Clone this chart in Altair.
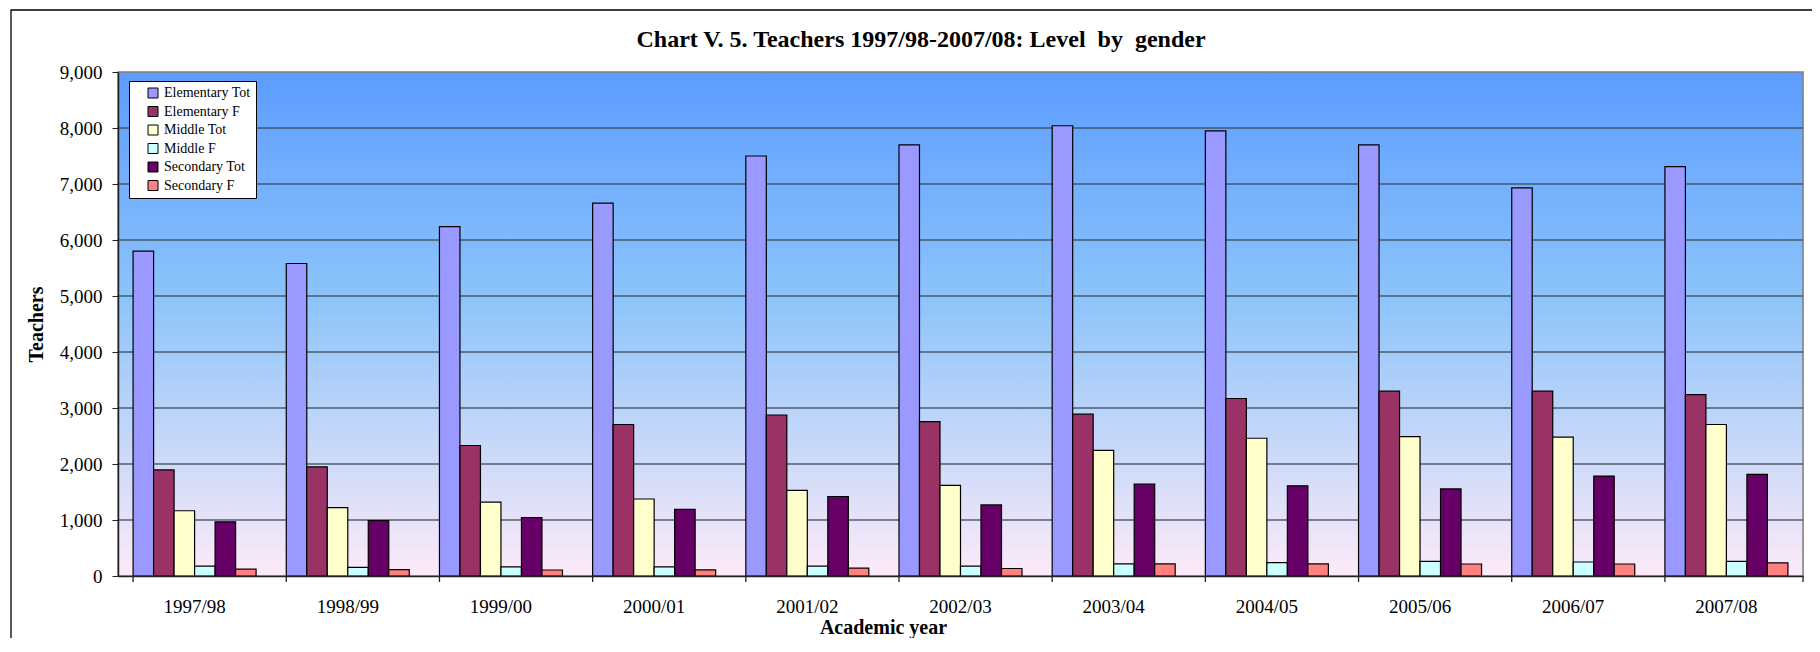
import altair as alt
import pandas as pd

years = ['1997/98', '1998/99', '1999/00', '2000/01', '2001/02', '2002/03',
         '2003/04', '2004/05', '2005/06', '2006/07', '2007/08']
series = ['Elementary Tot', 'Elementary F', 'Middle Tot', 'Middle F',
          'Secondary Tot', 'Secondary F']
colors = ['#9999FF', '#993366', '#FFFFCC', '#CCFFFF', '#660066', '#FF8080']

elem_tot = [5800, 5580, 6240, 6660, 7500, 7700, 8040, 7950, 7700, 6930, 7310]
elem_f = [1895, 1950, 2330, 2705, 2875, 2755, 2890, 3170, 3300, 3300, 3240]
mid_tot = [1165, 1220, 1320, 1375, 1530, 1620, 2245, 2460, 2490, 2480, 2705]
mid_f = [178, 155, 162, 163, 178, 178, 215, 238, 260, 250, 260]
sec_tot = [968, 988, 1045, 1190, 1420, 1270, 1640, 1610, 1555, 1785, 1815]
sec_f = [122, 115, 107, 111, 141, 134, 215, 215, 214, 214, 235]

y_ticks = [0, 1000, 2000, 3000, 4000, 5000, 6000, 7000, 8000, 9000]

title_text = 'Chart V. 5. Teachers 1997/98-2007/08: Level\u00a0 by\u00a0 gender'

FONT = 'Liberation Serif'
W, H = 1685, 504

rows = []
for s, vals in zip(series, [elem_tot, elem_f, mid_tot, mid_f, sec_tot, sec_f]):
    for yr, v in zip(years, vals):
        rows.append({'year': yr, 'series': s, 'value': v})
df = pd.DataFrame(rows)
df_years = pd.DataFrame({'year': years})
df_grid = pd.DataFrame({'v': y_ticks})
one = pd.DataFrame({'a': [0]})

xscale = alt.Scale(paddingInner=0.197, paddingOuter=0.0985)
yscale = alt.Scale(domain=[0, 9000], nice=False)

xaxis = alt.Axis(title='Academic year', ticks=False, tickSize=0, labelPadding=36,
                 labelBaseline='alphabetic', labelAngle=0, labelFont=FONT,
                 labelFontSize=19, labelColor='black', domainColor='#222',
                 domainWidth=1.5, titleFont=FONT, titleFontSize=20,
                 titleFontWeight='bold', titleColor='black', titleX=765,
                 titleY=57, titleBaseline='alphabetic', titleAlign='center',
                 zindex=1, grid=False)
yaxis = alt.Axis(title='Teachers', values=y_ticks, format=',.0f', grid=False,
                 tickSize=6, tickColor='#222', labelPadding=10, labelFont=FONT,
                 labelFontSize=19, labelColor='black', domainColor='#222',
                 domainWidth=1.5, titleFont=FONT, titleFontSize=20,
                 titleFontWeight='bold', titleColor='black', titleX=-76,
                 titleY=252, titleAngle=-90, titleBaseline='alphabetic',
                 titleAlign='center', zindex=1)

bg = alt.Chart(one).mark_rect(
    color=alt.Gradient(gradient='linear', x1=0, x2=0, y1=0, y2=1,
                       stops=[alt.GradientStop(offset=0, color='#5c9cff'),
                              alt.GradientStop(offset=0.45, color='#8cc4fa'),
                              alt.GradientStop(offset=1, color='#fdeaf8')]),
    stroke='#808080', strokeWidth=1.5
).encode(x=alt.value(0), x2=alt.value(W), y=alt.value(0), y2=alt.value(H))

grid = alt.Chart(df_grid).mark_rule(color='#3a4656', strokeWidth=1.4, opacity=0.85).encode(
    y=alt.Y('v:Q', scale=yscale, axis=yaxis)
).transform_filter('datum.v > 0 && datum.v < 9000')

bars = alt.Chart(df).mark_bar(stroke='black', strokeWidth=1.2).encode(
    x=alt.X('year:N', sort=years, scale=xscale, axis=xaxis),
    xOffset=alt.XOffset('series:N', sort=series, scale=alt.Scale(domain=series, paddingInner=0, paddingOuter=0)),
    y=alt.Y('value:Q', scale=yscale, axis=yaxis),
    color=alt.Color('series:N', sort=series,
                    scale=alt.Scale(domain=series, range=colors),
                    legend=alt.Legend(orient='none', legendX=11, legendY=9, title=None,
                                      fillColor='white', strokeColor='black',
                                      padding=5, symbolType='square', symbolSize=100,
                                      symbolStrokeColor='black', symbolStrokeWidth=1,
                                      symbolOffset=12, labelOffset=4, labelFont=FONT,
                                      labelFontSize=14, labelColor='black',
                                      rowPadding=4.5))
)

xticks = alt.Chart(df_years).mark_rule(color='#222', strokeWidth=1.3).encode(
    x=alt.X('year:N', sort=years, scale=xscale, axis=xaxis, bandPosition=0),
    y=alt.value(H), y2=alt.value(H + 6)
)
last_tick = alt.Chart(one).mark_rule(color='#222', strokeWidth=1.3).encode(
    x=alt.value(W), y=alt.value(H), y2=alt.value(H + 6)
)

frame = alt.Chart(one).mark_rect(filled=False, stroke='black', strokeWidth=1.3, fill=None).encode(
    x=alt.value(-107), x2=alt.value(1700), y=alt.value(-62), y2=alt.value(640)
)

title = alt.Chart(one).mark_text(
    text=title_text, font=FONT, fontSize=24, fontWeight='bold', color='black',
    align='center', baseline='alphabetic'
).encode(x=alt.value(803), y=alt.value(-25))

chart = alt.layer(frame, bg, grid, bars, xticks, last_tick, title).properties(
    width=W, height=H,
    autosize=alt.AutoSizeParams(type='none'),
    padding={'left': 110, 'top': 64, 'right': 9, 'bottom': 62}
).configure_view(stroke=None).configure(background='white')

chart.save('out.html', embed_options={'renderer': 'svg', 'actions': False})
